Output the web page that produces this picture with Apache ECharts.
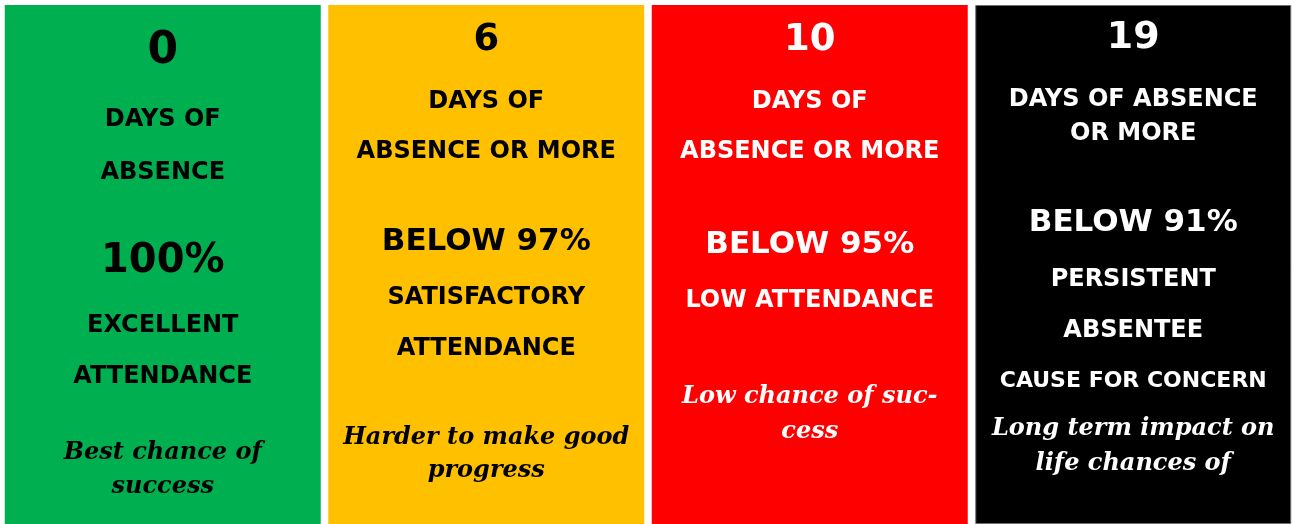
<!DOCTYPE html>
<html>
<head>
<meta charset="utf-8">
<script src="https://cdn.jsdelivr.net/npm/echarts@6/dist/echarts.min.js"></script>
<style>
html,body{margin:0;padding:0;background:#ffffff;}
#chart{width:1295px;height:524px;}
</style>
</head>
<body>
<div id="chart"></div>
<script>
// ---- data ----
const categories = ['0', '6', '10', '19'];          // days of absence
const panelValues = [100, 100, 100, 100];           // full-height panels
const panelColors = ['#00B050', '#FFC000', '#FF0000', '#000000'];
const textColors = ['#000000', '#000000', '#FFFFFF', '#FFFFFF'];
const dayLabels = [
  ['DAYS OF', 'ABSENCE'],
  ['DAYS OF', 'ABSENCE OR MORE'],
  ['DAYS OF', 'ABSENCE OR MORE'],
  ['DAYS OF ABSENCE', 'OR MORE']
];
const rateLabels = ['100%', 'BELOW 97%', 'BELOW 95%', 'BELOW 91%'];
const statusLabels = [
  ['EXCELLENT', 'ATTENDANCE'],
  ['SATISFACTORY', 'ATTENDANCE'],
  ['LOW ATTENDANCE'],
  ['PERSISTENT', 'ABSENTEE', 'CAUSE FOR CONCERN']
];
const outlookLabels = [
  ['Best chance of', 'success'],
  ['Harder to make good', 'progress'],
  ['Low chance of suc-', 'cess'],
  ['Long term impact on', 'life chances of']
];

// ---- layout (pixel rows & sizes per panel) ----
const layout = [
  {count: [52, 44], days: [120, 173], rate: [262, 40], status: [326, 377], statusSize: [24, 24], outlook: [453, 487]},
  {count: [40, 37], days: [102, 152], rate: [242, 31], status: [298, 349], statusSize: [24, 24], outlook: [438, 471]},
  {count: [40, 37], days: [102, 152], rate: [245, 31], status: [301], statusSize: [24], outlook: [397, 432]},
  {count: [38, 38], days: [100, 134], rate: [223, 31], status: [280, 331, 381], statusSize: [24, 24, 22], outlook: [429, 464]}
];

const BOLD = '"DejaVu Sans", Verdana, sans-serif';
const SCRIPT = '"DejaVu Serif", serif';

const chart = echarts.init(document.getElementById('chart'));

function txt(x, y, s, size, color, family, italic) {
  return {
    type: 'text',
    x: x,
    y: y,
    z2: 10,
    style: {
      text: s,
      fill: color,
      fontFamily: family,
      fontSize: size,
      fontWeight: 'bold',
      fontStyle: italic ? 'italic' : 'normal',
      align: 'center',
      verticalAlign: 'middle'
    }
  };
}

chart.setOption({
  animation: false,
  backgroundColor: '#ffffff',
  grid: {left: 1, right: 0, top: 5, bottom: 0},
  xAxis: {type: 'category', data: categories, show: false},
  yAxis: {type: 'value', min: 0, max: 100, show: false},
  series: [
    {
      type: 'bar',
      data: panelValues.map((v, i) => ({
        value: v,
        itemStyle: {
          color: panelColors[i],
          borderColor: i === 3 ? '#6f6f6f' : panelColors[i],
          borderWidth: i === 3 ? 1 : 0
        }
      })),
      barWidth: 316,
      silent: true,
      z: 1
    },
    {
      type: 'custom',
      data: panelValues.map((v, i) => [i, v]),
      encode: {x: 0, y: 1},
      clip: false,
      silent: true,
      z: 5,
      renderItem: function (params, api) {
        const i = params.dataIndex;
        const x = api.coord([api.value(0), 0])[0];
        const L = layout[i];
        const c = textColors[i];
        const ch = [];
        ch.push(txt(x, L.count[0], categories[i], L.count[1], c, BOLD));
        dayLabels[i].forEach((s, k) => ch.push(txt(x, L.days[k], s, 24, c, BOLD)));
        ch.push(txt(x, L.rate[0], rateLabels[i], L.rate[1], c, BOLD));
        statusLabels[i].forEach((s, k) => ch.push(txt(x, L.status[k], s, L.statusSize[k], c, BOLD)));
        outlookLabels[i].forEach((s, k) => ch.push(txt(x, L.outlook[k], s, 24, c, SCRIPT, true)));
        return {type: 'group', children: ch};
      }
    }
  ]
});
</script>
</body>
</html>
